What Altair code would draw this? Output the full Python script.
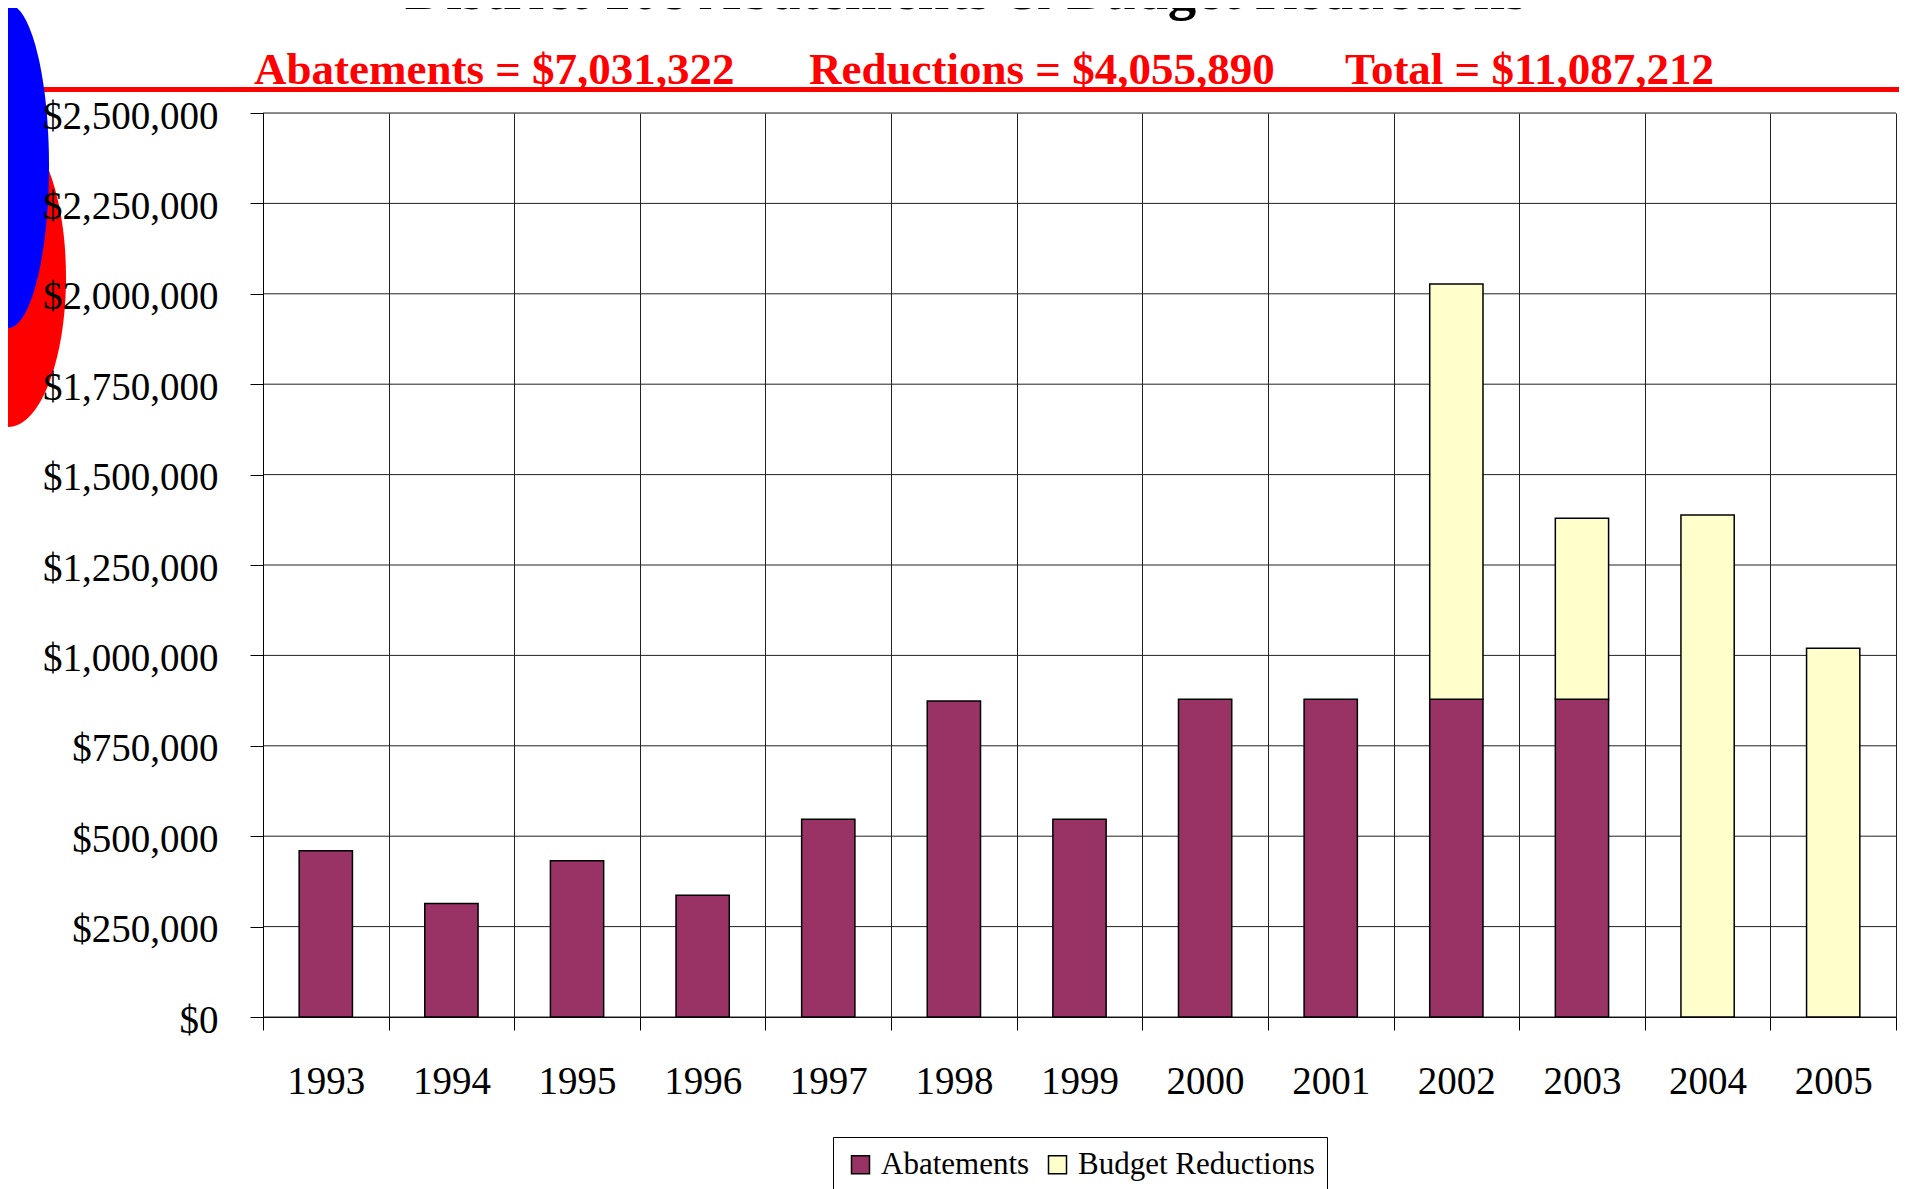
import altair as alt
import pandas as pd

# ---------------- data ----------------
years = ["1993", "1994", "1995", "1996", "1997", "1998", "1999",
         "2000", "2001", "2002", "2003", "2004", "2005"]
abatements = [460000, 314000, 432000, 337000, 547000, 874000, 547000,
              879000, 879000, 879000, 879000, 0, 0]
reductions = [0, 0, 0, 0, 0, 0, 0, 0, 0, 1148000, 500000, 1388000, 1020000]
series = ["Abatements", "Budget Reductions"]
series_colors = ["#993366", "#FFFFCC"]
y_ticks = [0, 250000, 500000, 750000, 1000000, 1250000, 1500000,
           1750000, 2000000, 2250000, 2500000]
title_text = "District 108 Abatements & Budget Reductions"
summary_texts = ["Abatements = $7,031,322", "Reductions = $4,055,890",
                 "Total = $11,087,212"]

rows = []
for i, yr in enumerate(years):
    rows.append({"year": yr, "series": series[0], "value": abatements[i], "order": 0})
    rows.append({"year": yr, "series": series[1], "value": reductions[i], "order": 1})
df = pd.DataFrame(rows)
one = pd.DataFrame({"a": [0]})

# ---------------- layout ----------------
W, H = 1633, 904
FONT = "Liberation Serif"

y_scale = alt.Scale(domain=[0, 2500000], nice=False)
y_axis = alt.Axis(title=None, values=y_ticks, format="$,.0f",
                  labelFont=FONT, labelFontSize=39, labelColor="black",
                  labelPadding=32, labelOffset=3,
                  tickSize=13, tickColor="black", tickWidth=1,
                  domainColor="black", domainWidth=1,
                  grid=False, zindex=1)

grid = alt.Chart(pd.DataFrame({"value": y_ticks})).mark_rule(
    color="#222222", strokeWidth=1
).encode(
    y=alt.Y("value:Q", scale=y_scale, axis=y_axis)
)

bars = alt.Chart(df).transform_filter("datum.value > 0").mark_bar(
    width=alt.RelativeBandSize(0.424), stroke="black", strokeWidth=1.5
).encode(
    x=alt.X("year:O", sort=years,
            scale=alt.Scale(paddingInner=0, paddingOuter=0),
            axis=alt.Axis(title=None, tickBand="extent", labelAngle=0,
                          labelFont=FONT, labelFontSize=39, labelColor="black",
                          labelBaseline="middle", labelPadding=51, labelOverlap=False,
                          tickSize=13, tickColor="black", tickWidth=1,
                          domainColor="black", domainWidth=1,
                          grid=True, gridColor="#222222", gridWidth=1, zindex=0)),
    y=alt.Y("value:Q", stack="zero", scale=y_scale, axis=y_axis),
    color=alt.Color("series:N",
                    scale=alt.Scale(domain=series, range=series_colors),
                    legend=alt.Legend(title=None, orient="none", legendX=570, legendY=1024,
                                      direction="horizontal", columns=2,
                                      strokeColor="black", fillColor="white", padding=12,
                                      symbolType="square", symbolSize=324,
                                      symbolStrokeColor="black", symbolStrokeWidth=1.5,
                                      symbolOpacity=1,
                                      labelFont=FONT, labelFontSize=31, labelColor="black",
                                      labelOffset=5, columnPadding=12,
                                      labelBaseline="middle", labelLimit=500)),
    order=alt.Order("order:Q"),
)

# decorative red rule under the summary line
red_line = alt.Chart(one).mark_rule(color="#FF0000", strokeWidth=5).encode(
    x=alt.value(-255), x2=alt.value(W + 3), y=alt.value(-23.5)
)


def ellipse_path(k):
    c = 0.5523
    return (f"M0,-1 C{k*c:.4f},-1 {k:.4f},{-c} {k:.4f},0 "
            f"C{k:.4f},{c} {k*c:.4f},1 0,1 "
            f"C{-k*c:.4f},1 {-k:.4f},{c} {-k:.4f},0 "
            f"C{-k:.4f},{-c} {-k*c:.4f},-1 0,-1 Z")


red_ell = alt.Chart(one).mark_point(
    shape=ellipse_path(58 / 150), size=300 ** 2, filled=True,
    color="#FF0000", opacity=1, strokeWidth=0
).encode(x=alt.value(-255), y=alt.value(164))

blue_ell = alt.Chart(one).mark_point(
    shape=ellipse_path(41 / 162), size=324 ** 2, filled=True,
    color="#0000FF", opacity=1, strokeWidth=0
).encode(x=alt.value(-255), y=alt.value(53))

sub_x = [-9, 546, 1082]
subs = [
    alt.Chart(one).mark_text(
        text=t, font=FONT, fontSize=45, fontWeight="bold", color="#FF0000",
        align="left", baseline="alphabetic"
    ).encode(x=alt.value(sx), y=alt.value(-29))
    for t, sx in zip(summary_texts, sub_x)
]

title = alt.Chart(one).mark_text(
    text=title_text, font=FONT, fontSize=57, fontWeight="bold", color="black",
    align="center", baseline="alphabetic"
).encode(x=alt.value(703), y=alt.value(-104))

chart = alt.layer(grid, bars, red_line, red_ell, blue_ell, *subs, title).properties(
    width=W, height=H,
    autosize=alt.AutoSizeParams(type="none"),
    padding={"left": 255, "top": 105, "right": 3, "bottom": 172},
).configure_view(stroke="black", strokeWidth=1).configure(background="white")

chart.save("out.html", embed_options={"renderer": "svg", "actions": False})
